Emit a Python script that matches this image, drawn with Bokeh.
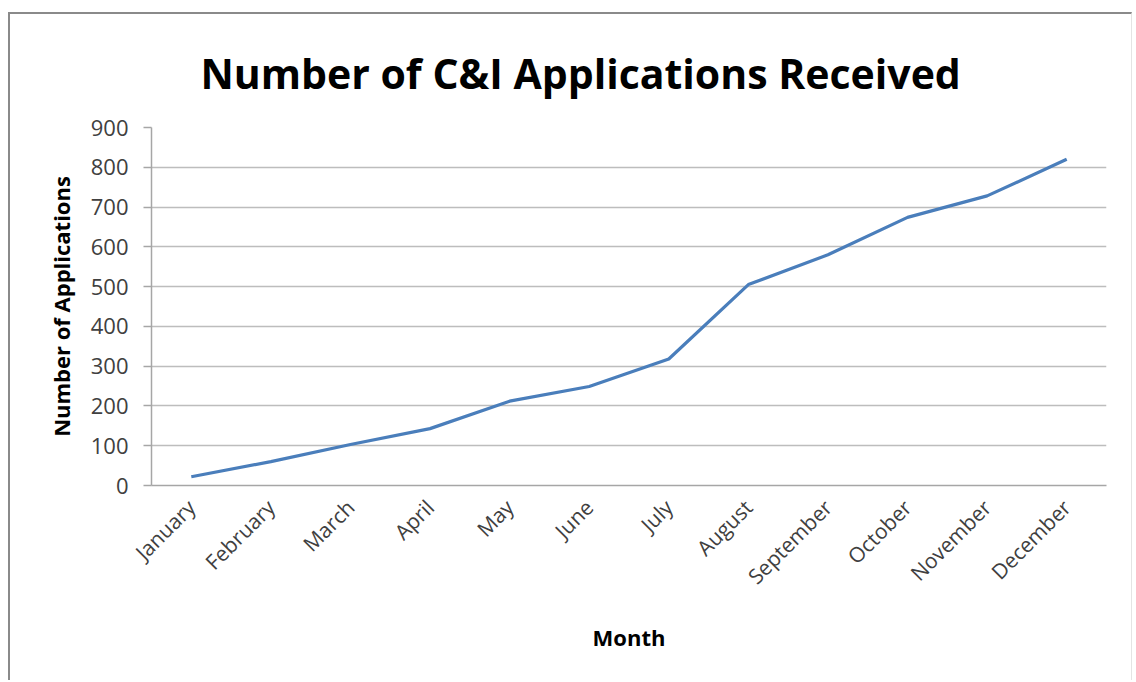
import math
from bokeh.plotting import figure
from bokeh.models import FixedTicker, Title
from bokeh.embed import file_html
from bokeh.resources import INLINE

months = ["January", "February", "March", "April", "May", "June", "July",
          "August", "September", "October", "November", "December"]
applications = [22, 60, 103, 143, 212, 249, 318, 505, 580, 674, 728, 820]
y_ticks = [0, 100, 200, 300, 400, 500, 600, 700, 800, 900]
title_text = "Number of C&I Applications Received"

FONT = "Open Sans"

p = figure(width=1124, height=668, x_range=months, y_range=(0, 900),
           output_backend="svg", toolbar_location=None,
           min_border_left=141, min_border_right=28,
           min_border_top=113, min_border_bottom=197)
p.margin = (0, 0, 0, 0)
p.styles = {"border-left": "2px solid #8a8a8a", "border-top": "2px solid #8a8a8a",
            "border-right": "1px solid #e4e4e4", "margin-left": "8px", "margin-top": "12px"}

p.x_range.range_padding = 0
p.outline_line_color = None
p.background_fill_color = "white"
p.border_fill_color = "white"

p.title = Title(text=title_text, align="left", offset=49,
                text_font=FONT, text_font_style="bold", text_font_size="41px",
                text_color="#000000", standoff=53)

p.line(months, applications, line_color="#4a7ebb", line_width=3.2)

# y axis
p.yaxis.ticker = FixedTicker(ticks=y_ticks)
p.yaxis.axis_label = "Number of Applications"
p.yaxis.axis_label_text_font = FONT
p.yaxis.axis_label_text_font_style = "bold"
p.yaxis.axis_label_text_font_size = "22px"
p.yaxis.axis_label_text_color = "#000000"
p.yaxis.axis_label_standoff = 12
p.yaxis.major_label_text_font = FONT
p.yaxis.major_label_text_font_size = "22px"
p.yaxis.major_label_text_color = "#404040"
p.yaxis.major_label_standoff = 15
p.yaxis.major_tick_out = 8
p.yaxis.major_tick_in = 0
p.yaxis.minor_tick_out = 0
p.yaxis.minor_tick_in = 0
p.yaxis.axis_line_color = "#a6a6a6"
p.yaxis.axis_line_width = 1.5
p.yaxis.major_tick_line_color = "#a6a6a6"
p.yaxis.major_tick_line_width = 1.5

# x axis
p.xaxis.axis_label = "Month"
p.xaxis.axis_label_text_font = FONT
p.xaxis.axis_label_text_font_style = "bold"
p.xaxis.axis_label_text_font_size = "22px"
p.xaxis.axis_label_text_color = "#000000"
p.xaxis.axis_label_standoff = 19
p.xaxis.major_label_orientation = math.pi / 4
p.xaxis.major_label_text_font = FONT
p.xaxis.major_label_text_font_size = "21px"
p.xaxis.major_label_text_color = "#404040"
p.xaxis.major_label_standoff = 18
p.xaxis.major_tick_out = 0
p.xaxis.major_tick_in = 0
p.xaxis.axis_line_color = "#a6a6a6"
p.xaxis.axis_line_width = 1.5

p.xgrid.grid_line_color = None
p.ygrid.grid_line_color = "#bdbdbd"
p.ygrid.grid_line_width = 1.5

open("out.html", "w").write(file_html(p, INLINE))
